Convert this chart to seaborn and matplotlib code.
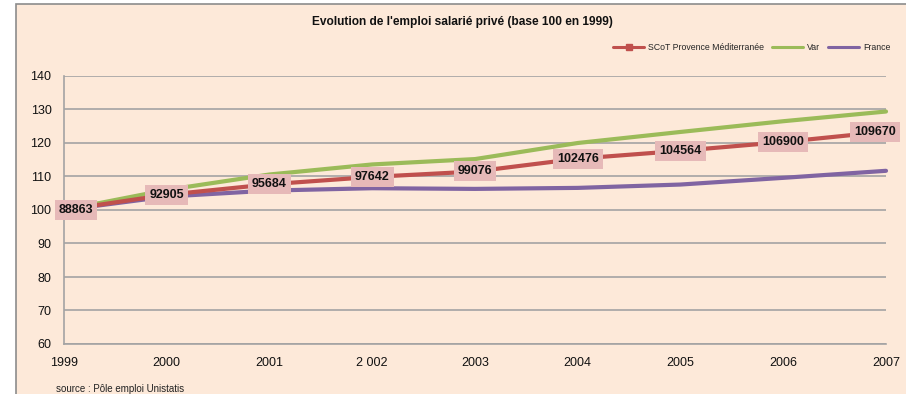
import matplotlib
matplotlib.use("Agg")
import matplotlib.pyplot as plt
from matplotlib.patches import Rectangle
from matplotlib.lines import Line2D
import seaborn as sns
import pandas as pd

# Data
years = [1999, 2000, 2001, 2002, 2003, 2004, 2005, 2006, 2007]
year_labels = ["1999", "2000", "2001", "2 002", "2003", "2004", "2005", "2006", "2007"]
scot_emplois = [88863, 92905, 95684, 97642, 99076, 102476, 104564, 106900, 109670]
var_index = [100, 106.0, 110.6, 113.6, 115.2, 120.0, 123.3, 126.5, 129.4]
france_index = [100, 104.0, 105.8, 106.5, 106.3, 106.6, 107.6, 109.6, 111.7]
series_names = ["SCoT Provence Méditerranée", "Var", "France"]

scot_index = [v / scot_emplois[0] * 100 for v in scot_emplois]

df = pd.DataFrame({
    "annee": years * 3,
    "indice": scot_index + var_index + france_index,
    "serie": [series_names[0]] * 9 + [series_names[1]] * 9 + [series_names[2]] * 9,
})

RED, GREEN, PURPLE = "#C0504D", "#9BBB59", "#8064A2"
PEACH = "#FDE9D9"
GRID = "#A3A3A3"
palette = {series_names[0]: RED, series_names[1]: GREEN, series_names[2]: PURPLE}

sns.set_style("white")
plt.rcParams["font.family"] = ["Liberation Sans Narrow", "Liberation Sans", "DejaVu Sans"]

fig = plt.figure(figsize=(9.06, 3.94), dpi=100, facecolor="white")
# framed chart area
fig.patches.append(Rectangle((16 / 906, -0.05), 1.0, 1 - 4 / 394 + 0.05,
                             transform=fig.transFigure, facecolor=PEACH,
                             edgecolor="#8C8C8C", linewidth=1.2, zorder=-5))

ax = fig.add_axes([64 / 906, 50 / 394, 822 / 906, 268 / 394])
ax.set_facecolor("none")

sns.lineplot(data=df, x="annee", y="indice", hue="serie", palette=palette,
             hue_order=[series_names[1], series_names[2], series_names[0]],
             linewidth=3.0, ax=ax, legend=False, clip_on=False, zorder=3)

ax.set_xlim(1999, 2007)
ax.set_ylim(60, 140)
ax.set_yticks(range(60, 141, 10))
ax.set_xticks(years)
ax.set_xticklabels(year_labels)
ax.set_xlabel("")
ax.set_ylabel("")
ax.yaxis.grid(True, color=GRID, linewidth=1.2, zorder=0)
ax.set_axisbelow(True)
for s in ["top", "right"]:
    ax.spines[s].set_visible(False)
for s in ["left", "bottom"]:
    ax.spines[s].set_color(GRID)
    ax.spines[s].set_linewidth(1.2)
ax.tick_params(axis="y", length=0, pad=9, labelsize=9, labelcolor="#111111")
ax.tick_params(axis="x", length=4, width=1.2, color=GRID, pad=5,
               labelsize=9, labelcolor="#111111")

# value labels on the SCoT series
offsets = {0: 12, 8: -11}
for i, (x, y, n) in enumerate(zip(years, scot_index, scot_emplois)):
    ax.annotate(f"{n}", (x, y), xytext=(offsets.get(i, 0), 0),
                textcoords="offset pixels", ha="center", va="center",
                fontsize=9, fontweight="bold", color="#111111", zorder=6,
                annotation_clip=False,
                bbox=dict(boxstyle="square,pad=0.32", fc="#E6B9B8", ec="none"))

fig.text(462 / 906, 1 - 22 / 394,
         "Evolution de l'emploi salarié privé (base 100 en 1999)",
         ha="center", va="center", fontsize=8.6, fontweight="bold", color="#111111")

handles = [
    Line2D([], [], color=RED, lw=2.2, marker="s", markersize=5),
    Line2D([], [], color=GREEN, lw=2.2),
    Line2D([], [], color=PURPLE, lw=2.2),
]
fig.legend(handles, series_names, loc="center right",
           bbox_to_anchor=(898 / 906, 1 - 48 / 394), ncol=3, frameon=False,
           fontsize=6.3, handlelength=3.6, columnspacing=0.9, handletextpad=0.4)

fig.text(56 / 906, 1 - 389 / 394, "source : Pôle emploi Unistatis",
         ha="left", va="center", fontsize=7, color="#222222")

fig.savefig("out.png", dpi=100, facecolor="white")
